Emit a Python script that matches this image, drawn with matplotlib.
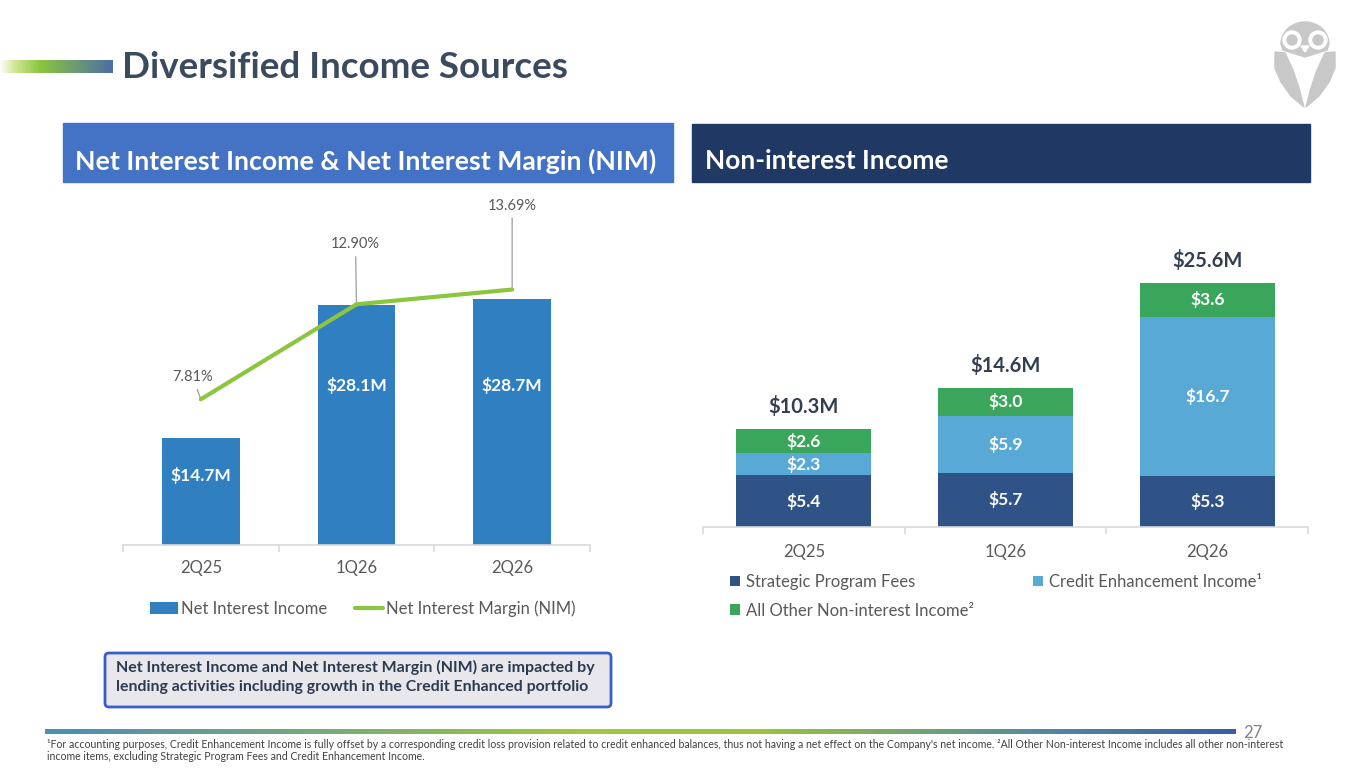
import numpy as np
import matplotlib
matplotlib.use("Agg")
import matplotlib.pyplot as plt
import matplotlib.transforms as mtrans
from matplotlib.patches import Rectangle, FancyBboxPatch, Circle, Polygon
from matplotlib.colors import LinearSegmentedColormap

# ---------------- data ----------------
nii_quarters = ["2Q25", "1Q26", "2Q26"]
nii_values = [14.7, 28.1, 28.7]          # Net Interest Income ($M)
nim_values = [7.81, 12.90, 13.69]        # Net Interest Margin (%)

nonint_quarters = ["2Q25", "1Q26", "2Q26"]
strategic_fees = [5.4, 5.7, 5.3]
credit_enhancement = [2.3, 5.9, 16.7]
other_nonint = [2.6, 3.0, 3.6]
nonint_totals = [10.3, 14.6, 25.6]

footnote_1 = ("\u00b9For accounting purposes, Credit Enhancement Income is fully offset by a corresponding credit loss "
              "provision related to credit enhanced balances, thus not having a net effect on the Company's net income. "
              "\u00b2All Other Non-interest Income includes all other non-interest")
footnote_2 = "income items, excluding Strategic Program Fees and Credit Enhancement Income."
note_lines = ["Net Interest Income and Net Interest Margin (NIM) are impacted by",
              "lending activities including growth in the Credit Enhanced portfolio"]

# ---------------- style ----------------
plt.rcParams["font.family"] = ["Lato", "DejaVu Sans"]
W, H = 1365, 768
fig = plt.figure(figsize=(W / 100, H / 100), dpi=100)
renderer = fig.canvas.get_renderer()

C_TITLE = "#3b4a5f"
C_NII = "#2f7fc1"
C_NIM = "#8cc63e"
C_DARK = "#2f5387"
C_LIGHT = "#58a9d5"
C_GREEN = "#3aa65b"
C_GRAY = "#595959"
C_AXIS = "#d9d9d9"


def px_axes(x0, y0, x1, y1, **kw):
    return fig.add_axes([x0 / W, 1 - y1 / H, (x1 - x0) / W, (y1 - y0) / H], **kw)


def fit(t, width):
    bb = t.get_window_extent(renderer)
    t.set_fontsize(t.get_fontsize() * width / bb.width)


# background / decoration axes in pixel coordinates
bg = fig.add_axes([0, 0, 1, 1], zorder=-5)
bg.set_xlim(0, W)
bg.set_ylim(H, 0)
bg.axis("off")

# top-left gradient bar
cm_top = LinearSegmentedColormap.from_list("top", [(0, "#ffffff"), (0.12, "#d4e89a"), (0.35, "#8cc63e"), (1, "#4a6ea6")])
bg.imshow(np.linspace(0, 1, 256)[None, :], cmap=cm_top, extent=(0, 113, 73, 60), aspect="auto", zorder=1)

t = bg.text(122, 67, "Diversified Income Sources", fontsize=24, fontweight="bold", color=C_TITLE,
            ha="left", va="center")
fit(t, 446)

# header boxes
bg.add_patch(Rectangle((63, 123), 610, 59, color="#4472c4", zorder=1))
bg.add_patch(Rectangle((692, 124), 618, 58, color="#203864", zorder=1))
t = bg.text(75, 161, "Net Interest Income & Net Interest Margin (NIM)", color="white", fontsize=16,
            fontweight="bold", ha="left", va="center", zorder=2)
fit(t, 580)
t = bg.text(705, 161, "Non-interest Income", color="white", fontsize=16,
            fontweight="bold", ha="left", va="center", zorder=2)
fit(t, 244)

# owl logo (approximation)
owl = "#c8c8c8"
cx = 1305
ang = np.linspace(0, np.pi, 40)
head = [(cx + 24 * np.cos(a), 44 - 22 * np.sin(a)) for a in ang]
head += [(cx - 22, 50), (cx, 57), (cx + 22, 50)]
bg.add_patch(Polygon(head, closed=True, color=owl, zorder=1))
lw_pts = [(1275, 52), (1285, 53), (1293, 70), (1299, 88), (1304, 107), (1291, 96), (1281, 82), (1275, 68)]
bg.add_patch(Polygon(lw_pts, closed=True, color=owl, zorder=1))
bg.add_patch(Polygon([(2 * cx - x, y) for x, y in lw_pts], closed=True, color=owl, zorder=1))
for ex in (1292, 1318):
    bg.add_patch(Circle((ex, 40), 9, color="white", zorder=3))
    bg.add_patch(Circle((ex, 40), 5, color=owl, zorder=4))
bg.add_patch(Polygon([(cx - 4, 46), (cx + 4, 46), (cx, 52)], closed=True, color="white", zorder=4))

# note box
bg.add_patch(FancyBboxPatch((105, 653), 506, 54, boxstyle="round,pad=0,rounding_size=4",
                            fc="#e8e8ec", ec="#3a5ccc", lw=2, zorder=1))
for i, line in enumerate(note_lines):
    t = bg.text(116, 667 + 20 * i, line, fontsize=11, fontweight="bold", color="#2c3a4f",
                ha="left", va="center", zorder=2)
    fit(t, 478 if i == 0 else 472)

# bottom gradient rule
cm_bot = LinearSegmentedColormap.from_list("bot", [(0, "#4b8db7"), (0.45, "#a2c73f"), (0.6, "#9cc33f"),
                                                   (0.85, "#4f88a0"), (1, "#3b5ca5")])
bg.imshow(np.linspace(0, 1, 256)[None, :], cmap=cm_bot, extent=(45, 1236, 734, 729), aspect="auto", zorder=1)
bg.text(1243, 733, "27", fontsize=12, color="#808080", ha="left", va="center")
t = bg.text(47, 745, footnote_1, fontsize=7, color="#404040", ha="left", va="center")
fit(t, 1231)
fs_fn = t.get_fontsize()
bg.text(47, 757, footnote_2, fontsize=fs_fn, color="#404040", ha="left", va="center")

# ---------------- left chart: NII bars + NIM line ----------------
ax1 = px_axes(123, 190, 590, 545)
x1 = np.arange(len(nii_quarters))
bars1 = ax1.bar(x1, nii_values, width=0.5, color=C_NII, label="Net Interest Income", zorder=2)
ax1.set_xlim(-0.5, 2.5)
y_min = 3.92                       # value axis does not start at zero (auto scale)
ax1.set_ylim(y_min, y_min + 355 / 9.925)
# bar labels (pixel rows on the figure, x in data)
lab_tr = mtrans.blended_transform_factory(ax1.transData, bg.transData)
for xi, v, ypx in zip(x1, nii_values, [476, 385, 385]):
    ax1.text(xi, ypx, f"${v:.1f}M", transform=lab_tr, ha="center", va="center", color="white",
             fontsize=12.5, fontweight="bold", zorder=3)

ax1b = ax1.twinx()
ax1b.set_ylim(0, 355 / 18.66)
(line_nim,) = ax1b.plot(x1, nim_values, color=C_NIM, lw=3, solid_capstyle="round",
                        label="Net Interest Margin (NIM)", zorder=4)
offsets = [(-8, 22), (-1, 60), (0, 84)]
for xi, v, (dx, dy) in zip(x1, nim_values, offsets):
    ax1b.annotate(f"{v:.2f}%", xy=(xi, v), xytext=(dx * 0.72, dy * 0.72), textcoords="offset points",
                  ha="center", va="center", fontsize=10.5, color=C_GRAY,
                  arrowprops=dict(arrowstyle="-", color="#a6a6a6", lw=1, shrinkA=2, shrinkB=0))

for ax in (ax1, ax1b):
    for s in ("top", "left", "right"):
        ax.spines[s].set_visible(False)
    ax.set_yticks([])
ax1b.spines["bottom"].set_visible(False)
ax1.spines["bottom"].set_color(C_AXIS)
ax1.spines["bottom"].set_linewidth(1.2)
ax1.set_xticks(x1)
ax1.set_xticklabels(nii_quarters)
ax1.set_xticks([-0.5, 0.5, 1.5, 2.5], minor=True)
ax1.tick_params(axis="x", which="major", length=0, pad=11, labelsize=12, labelcolor=C_GRAY)
ax1.tick_params(axis="x", which="minor", length=5, color=C_AXIS, width=1.2)
ax1.patch.set_alpha(0)
ax1b.patch.set_alpha(0)

ax1.legend([bars1, line_nim], ["Net Interest Income", "Net Interest Margin (NIM)"],
           loc="upper left", bbox_to_anchor=(150 / W, 1 - 600 / H), bbox_transform=fig.transFigure,
           ncol=2, frameon=False, fontsize=12, handlelength=1.65, handleheight=0.75,
           handletextpad=0.2, columnspacing=1.7, borderpad=0, borderaxespad=0, labelcolor=C_GRAY)

# ---------------- right chart: non-interest income stacked ----------------
ax2 = px_axes(703, 240, 1308, 527)
x2 = np.arange(len(nonint_quarters))
bw = 0.67
b_a = ax2.bar(x2, strategic_fees, width=bw, color=C_DARK, zorder=2)
b_b = ax2.bar(x2, credit_enhancement, width=bw, bottom=strategic_fees, color=C_LIGHT, zorder=2)
bottom_c = [a + b for a, b in zip(strategic_fees, credit_enhancement)]
b_c = ax2.bar(x2, other_nonint, width=bw, bottom=bottom_c, color=C_GREEN, zorder=2)
ax2.set_xlim(-0.5, 2.5)
ax2.set_ylim(0, 287 / 9.55)

for xi in x2:
    segs = [(0, strategic_fees[xi]), (strategic_fees[xi], credit_enhancement[xi]),
            (bottom_c[xi], other_nonint[xi])]
    for b0, h in segs:
        ax2.text(xi, b0 + h / 2, f"${h:.1f}", ha="center", va="center", color="white",
                 fontsize=12.5, fontweight="bold", zorder=3)
    top = bottom_c[xi] + other_nonint[xi]
    ax2.annotate(f"${nonint_totals[xi]:.1f}M", xy=(xi, top), xytext=(0, 22 * 0.72), textcoords="offset points",
                 ha="center", va="center", fontsize=14.5, fontweight="bold", color="#333f50")

for s in ("top", "left", "right"):
    ax2.spines[s].set_visible(False)
ax2.set_yticks([])
ax2.spines["bottom"].set_color(C_AXIS)
ax2.spines["bottom"].set_linewidth(1.2)
ax2.set_xticks(x2)
ax2.set_xticklabels(nonint_quarters)
ax2.set_xticks([-0.5, 0.5, 1.5, 2.5], minor=True)
ax2.tick_params(axis="x", which="major", length=0, pad=12, labelsize=12, labelcolor=C_GRAY)
ax2.tick_params(axis="x", which="minor", length=5, color=C_AXIS, width=1.2)
ax2.patch.set_alpha(0)

ax2.legend([b_a, b_c, b_b],
           ["Strategic Program Fees", "All Other Non-interest Income\u00b2", "Credit Enhancement Income\u00b9"],
           loc="upper left", bbox_to_anchor=(730 / W, 1 - 574 / H), bbox_transform=fig.transFigure,
           ncol=2, frameon=False, fontsize=12, handlelength=0.6, handleheight=0.6,
           handletextpad=0.35, columnspacing=3.55, labelspacing=0.75, borderpad=0, borderaxespad=0,
           labelcolor=C_GRAY)

fig.savefig("out.png", dpi=100)
